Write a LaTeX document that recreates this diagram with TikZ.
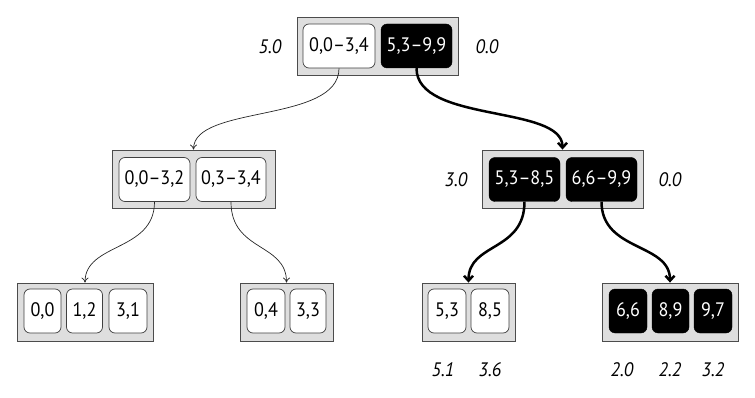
\documentclass[tikz,border=0pt]{standalone}
\usepackage{fontspec}
\setmainfont[FakeStretch=0.93]{PT Sans}
\usetikzlibrary{arrows.meta}
\begin{document}
\begin{tikzpicture}[x=1pt,y=-1pt,
  every node/.style={font=\fontsize{19.5}{22}\selectfont},
  panel/.style={draw=black!70, fill=black!13, line width=0.8pt, minimum height=58pt, inner sep=0pt},
  wcell/.style={draw=black!75, fill=white, rounded corners=6pt, line width=0.7pt, minimum height=44pt, inner sep=0pt},
  bcell/.style={draw=black, fill=black, text=white, rounded corners=6pt, minimum height=44pt, inner sep=0pt},
  score/.style={font=\fontsize{19.5}{22}\selectfont\itshape, inner sep=0pt},
  thinarrow/.style={draw=black!85, line width=0.7pt, -{To[length=5pt,width=7pt]}},
  thickarrow/.style={draw=black, line width=2.5pt, -{Straight Barb[length=5pt,width=9pt]}}
]
\useasboundingbox (0,0) rectangle (755,398);

% root
\node[panel, minimum width=161pt] (root) at (377.5,46) {};
\node[wcell, minimum width=72pt] (r1) at (339,46) {0,0–3,4};
\node[bcell, minimum width=71pt] (r2) at (416.5,46) {5,3–9,9};
\node[score] (s50) at (270,47) {5.0};
\node[score] (s00a) at (487,47) {0.0};

% level 2 left
\node[panel, minimum width=163pt] (L) at (193.5,179) {};
\node[wcell, minimum width=71pt] (l1) at (154.5,179.5) {0,0–3,2};
\node[wcell, minimum width=70pt] (l2) at (231,179.5) {0,3–3,4};

% level 2 right
\node[panel, minimum width=161pt] (R) at (562.5,179) {};
\node[bcell, minimum width=71pt] (m1) at (524.5,179.5) {5,3–8,5};
\node[bcell, minimum width=71pt] (m2) at (601.5,179.5) {6,6–9,9};
\node[score] (s30) at (456,180) {3.0};
\node[score] (s00b) at (670,180) {0.0};

% level 3
\node[panel, minimum width=136pt] (LL) at (85,312) {};
\node[wcell, minimum width=37pt] (a1) at (42.5,311) {0,0};
\node[wcell, minimum width=36pt] (a2) at (84.5,311) {1,2};
\node[wcell, minimum width=38pt] (a3) at (128,311) {3,1};

\node[panel, minimum width=93pt] (LR) at (286.5,312) {};
\node[wcell, minimum width=38pt] (b1) at (266,311) {0,4};
\node[wcell, minimum width=36pt] (b2) at (308,311) {3,3};

\node[panel, minimum width=93pt] (RL) at (468.5,312) {};
\node[wcell, minimum width=38pt] (c1) at (447,311) {5,3};
\node[wcell, minimum width=38pt] (c2) at (490,311) {8,5};

\node[panel, minimum width=136pt] (RR) at (670,312) {};
\node[bcell, minimum width=38pt] (d1) at (628,311) {6,6};
\node[bcell, minimum width=37pt] (d2) at (670.5,311) {8,9};
\node[bcell, minimum width=38pt] (d3) at (713,311) {9,7};

\node[score] (t1) at (443,370) {5.1};
\node[score] (t2) at (490,370) {3.6};
\node[score] (t3) at (622,370) {2.0};
\node[score] (t4) at (670,370) {2.2};
\node[score] (t5) at (713,370) {3.2};

% connectors
\draw[thinarrow] (r1.south) .. controls +(0,55) and +(0,-45) .. (L.north);
\draw[thickarrow] (r2.south) .. controls +(0,55) and +(0,-45) .. (R.north);
\draw[thinarrow] (l1.south) .. controls +(0,50) and +(0,-40) .. (LL.north);
\draw[thinarrow] (l2.south) .. controls +(0,50) and +(0,-40) .. (LR.north);
\draw[thickarrow] (m1.south) .. controls +(0,50) and +(0,-40) .. (RL.north);
\draw[thickarrow] (m2.south) .. controls +(0,50) and +(0,-40) .. (RR.north);
\end{tikzpicture}
\end{document}
